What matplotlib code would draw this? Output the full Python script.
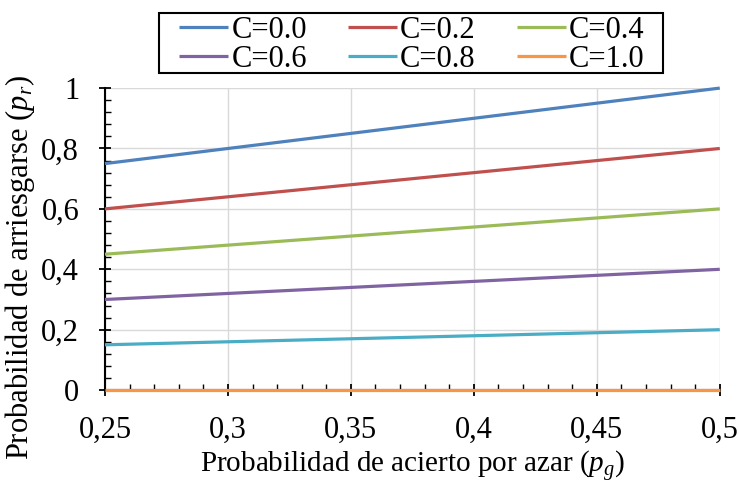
import matplotlib
matplotlib.use("Agg")
import matplotlib.pyplot as plt
import matplotlib.patches as mpatches
from matplotlib.ticker import MultipleLocator, FuncFormatter

plt.rcParams["font.family"] = ["Liberation Serif", "DejaVu Serif"]
plt.rcParams["mathtext.fontset"] = "custom"
plt.rcParams["mathtext.rm"] = "Liberation Serif"
plt.rcParams["mathtext.it"] = "Liberation Serif:italic"

# data
pg = [0.25, 0.5]
labels = ["C=0.0", "C=0.2", "C=0.4", "C=0.6", "C=0.8", "C=1.0"]
pr_start = [0.75, 0.60, 0.45, 0.30, 0.15, 0.0]
pr_end = [1.00, 0.80, 0.60, 0.40, 0.20, 0.0]
colors = ["#4F81BD", "#C0504D", "#9BBB59", "#8064A2", "#4BACC6", "#F79646"]

fig = plt.figure(figsize=(7.39, 4.84), dpi=100)
ax = fig.add_axes([0.142, 0.194, 0.832, 0.624])

lines = []
for lab, y0, y1, col in zip(labels, pr_start, pr_end, colors):
    ln, = ax.plot(pg, [y0, y1], color=col, lw=2.3, label=lab,
                  solid_capstyle="butt", clip_on=False, zorder=3)
    lines.append(ln)

ax.set_xlim(0.25, 0.5)
ax.set_ylim(0, 1)
ax.xaxis.set_major_locator(MultipleLocator(0.05))
ax.xaxis.set_minor_locator(MultipleLocator(0.01))
ax.yaxis.set_major_locator(MultipleLocator(0.2))
ax.yaxis.set_minor_locator(MultipleLocator(0.04))


def comma(v, _):
    s = f"{v:.2f}".rstrip("0").rstrip(".")
    return s.replace(".", ",")


ax.xaxis.set_major_formatter(FuncFormatter(comma))
ax.yaxis.set_major_formatter(FuncFormatter(comma))

ax.grid(True, which="major", color="#D9D9D9", lw=1.0, zorder=0)
ax.set_axisbelow(True)
for s in ("top", "right"):
    ax.spines[s].set_visible(False)
for s in ("left", "bottom"):
    ax.spines[s].set_linewidth(1.5)
    ax.spines[s].set_color("black")

ax.tick_params(which="major", direction="inout", length=9, width=1.3,
               labelsize=22)
ax.tick_params(axis="x", which="major", pad=14)
ax.tick_params(axis="y", which="major", pad=14)
ax.tick_params(which="minor", direction="in", length=4, width=1.0)

ax.set_xlabel("Probabilidad de acierto por azar ($p_g$)", fontsize=21, labelpad=3)
ax.set_ylabel("Probabilidad de arriesgarse ($p_r$)", fontsize=22)
ax.yaxis.set_label_coords(-0.11, 0.407)

# legend filled row by row like the original, frame drawn separately
order = [0, 3, 1, 4, 2, 5]
leg = fig.legend([lines[i] for i in order], [labels[i] for i in order],
                 loc="center", bbox_to_anchor=(0.5575, 0.908), ncol=3,
                 fontsize=22, frameon=False, handlelength=1.6,
                 handletextpad=0.1, columnspacing=1.35, labelspacing=0.0,
                 borderpad=0.0)
fig.patches.append(mpatches.Rectangle((0.2152, 0.8492), 0.682, 0.124,
                                      transform=fig.transFigure, fill=False,
                                      edgecolor="black", lw=1.5))

fig.savefig("out.png", dpi=100)
